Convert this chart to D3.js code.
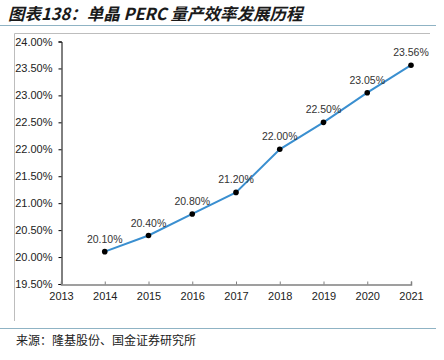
<!DOCTYPE html>
<html><head><meta charset="utf-8">
<script src="https://cdn.jsdelivr.net/npm/d3@7"></script>
<style>body{margin:0;background:#fff}svg{display:block}</style>
</head><body>
<svg id="c" width="444" height="360"></svg>
<script>
const years = [2014, 2015, 2016, 2017, 2018, 2019, 2020, 2021];
const efficiency = [20.10, 20.40, 20.80, 21.20, 22.00, 22.50, 23.05, 23.56];
const xTicks = [2013, 2014, 2015, 2016, 2017, 2018, 2019, 2020, 2021];
const yTicks = [19.5, 20, 20.5, 21, 21.5, 22, 22.5, 23, 23.5, 24];
const title = "图表138：单晶 PERC 量产效率发展历程";
const source = "来源：隆基股份、国金证券研究所";

const svg = d3.select("#c");
const x = d3.scaleLinear().domain([2013, 2021]).range([61, 411]);
const y = d3.scaleLinear().domain([19.5, 24]).range([284, 41.5]);

// title
svg.append("text").attr("x", 8).attr("y", 20).text(title)
  .attr("font-family", "'Noto Sans CJK SC', sans-serif").attr("font-size", 16.5)
  .attr("font-weight", "bold").attr("font-style", "italic").attr("fill", "#1a1a1a");
svg.append("line").attr("x1", 0).attr("x2", 436).attr("y1", 25.5).attr("y2", 25.5)
  .attr("stroke", "#8fb3c4").attr("stroke-width", 1.2);
// frame
svg.append("line").attr("x1", 14.5).attr("x2", 430).attr("y1", 33.5).attr("y2", 33.5).attr("stroke", "#bdbdbd");
svg.append("line").attr("x1", 14.5).attr("x2", 14.5).attr("y1", 33.5).attr("y2", 321).attr("stroke", "#bdbdbd");
svg.append("line").attr("x1", 0).attr("x2", 436).attr("y1", 328.5).attr("y2", 328.5)
  .attr("stroke", "#8fb3c4").attr("stroke-width", 1.2);
svg.append("text").attr("x", 16).attr("y", 345).text(source)
  .attr("font-family", "'Noto Sans CJK SC', sans-serif").attr("font-size", 12).attr("fill", "#222");

// y axis
const ya = svg.append("g").attr("transform", "translate(61.5,0)")
  .call(d3.axisLeft(y).tickValues(yTicks).tickSize(3).tickPadding(6).tickFormat(d => d.toFixed(2) + "%"));
ya.select(".domain").attr("stroke", "#000");
ya.selectAll(".tick line").attr("stroke", "#000");
ya.selectAll("text").attr("font-family", "Arial, 'Liberation Sans', sans-serif").attr("font-size", 11).attr("fill", "#222");

// x axis
const xa = svg.append("g").attr("transform", "translate(0,284.5)")
  .call(d3.axisBottom(x).tickValues(xTicks).tickSize(-3).tickPadding(8).tickFormat(d3.format("d")));
xa.select(".domain").attr("stroke", "#808080").attr("stroke-width", 1.5);
xa.selectAll(".tick line").attr("stroke", "#808080");
xa.selectAll("text").attr("font-family", "Arial, 'Liberation Sans', sans-serif").attr("font-size", 11).attr("fill", "#222");

const data = years.map((yr, i) => ({yr, v: efficiency[i]}));
svg.append("path").datum(data)
  .attr("d", d3.line().x(d => x(d.yr)).y(d => y(d.v)))
  .attr("fill", "none").attr("stroke", "#3a8fd0").attr("stroke-width", 2);
svg.selectAll("circle.pt").data(data).join("circle").attr("class", "pt")
  .attr("cx", d => x(d.yr)).attr("cy", d => y(d.v)).attr("r", 2.8).attr("fill", "#000");
svg.selectAll("text.lbl").data(data).join("text").attr("class", "lbl")
  .attr("x", d => x(d.yr)).attr("y", d => y(d.v) - 9).attr("text-anchor", "middle")
  .text(d => d.v.toFixed(2) + "%")
  .attr("font-family", "Arial, 'Liberation Sans', sans-serif").attr("font-size", 10.5).attr("fill", "#333");
</script>
</body></html>
